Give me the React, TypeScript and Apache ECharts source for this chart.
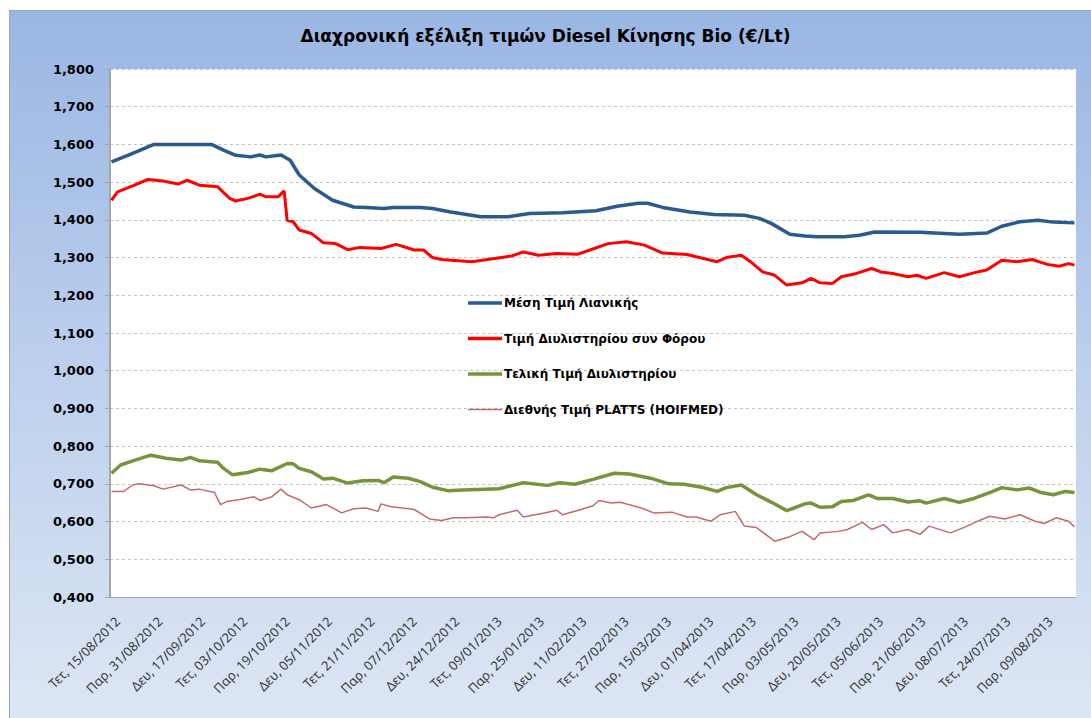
import React, { useEffect, useRef } from 'react';
import * as echarts from 'echarts';

const TITLE = 'Διαχρονική εξέλιξη τιμών Diesel Κίνησης Bio (€/Lt)';
const NAME_RETAIL = 'Μέση Τιμή Λιανικής';
const NAME_REFINERY_TAX = 'Τιμή Διυλιστηρίου συν Φόρου';
const NAME_REFINERY = 'Τελική Τιμή Διυλιστηρίου';
const NAME_PLATTS = 'Διεθνής Τιμή PLATTS (HOIFMED)';

// Categories: every day Mon–Sat starting Mon 13/08/2012
const START = { y: 2012, m: 8, d: 13 };
const DAY_COUNT = 319;
const DAY_NAMES = ['Κυρ', 'Δευ', 'Τρι', 'Τετ', 'Πεμ', 'Παρ', 'Σαβ'];
const LABEL_EVERY = 14;
const LABEL_OFFSET = 2;

const Y_MIN = 0.4;
const Y_MAX = 1.8;
const Y_STEP = 0.1;

// [day index, value]
const retailAvg: [number, number][] = [
  [0, 1.554], [7, 1.576], [14, 1.6], [33, 1.6], [37, 1.585], [41, 1.571], [46, 1.567],
  [49, 1.572], [51, 1.567], [56, 1.572], [59, 1.558], [62, 1.519], [67, 1.483], [73, 1.452],
  [80, 1.434], [84, 1.433], [90, 1.43], [93, 1.433], [102, 1.433], [106, 1.43], [112, 1.421],
  [122, 1.408], [131, 1.408], [138, 1.417], [149, 1.419], [160, 1.424], [167, 1.436],
  [174, 1.444], [177, 1.444], [182, 1.433], [191, 1.421], [199, 1.414], [209, 1.412],
  [214, 1.404], [218, 1.39], [224, 1.362], [229, 1.357], [233, 1.355], [242, 1.355],
  [247, 1.359], [252, 1.368], [267, 1.367], [280, 1.362], [289, 1.365], [294, 1.383],
  [300, 1.395], [306, 1.399], [311, 1.394], [318, 1.392],
];

const refineryWithTax: [number, number][] = [
  [0, 1.452], [2, 1.474], [7, 1.49], [12, 1.507], [17, 1.503], [22, 1.495], [25, 1.505],
  [29, 1.492], [35, 1.488], [39, 1.457], [41, 1.45], [45, 1.457], [49, 1.468], [51, 1.461],
  [55, 1.461], [57, 1.477], [58, 1.399], [60, 1.395], [62, 1.373], [66, 1.364], [70, 1.339],
  [74, 1.337], [78, 1.321], [82, 1.327], [89, 1.324], [94, 1.335], [100, 1.32], [103, 1.32],
  [106, 1.3], [109, 1.295], [119, 1.289], [127, 1.298], [132, 1.304], [136, 1.315],
  [141, 1.306], [147, 1.311], [154, 1.309], [158, 1.32], [164, 1.337], [170, 1.342],
  [176, 1.333], [182, 1.312], [190, 1.308], [200, 1.289], [203, 1.3], [208, 1.306],
  [211, 1.289], [215, 1.262], [219, 1.253], [223, 1.227], [228, 1.233], [231, 1.245],
  [234, 1.233], [238, 1.231], [241, 1.249], [246, 1.258], [251, 1.271], [254, 1.262],
  [258, 1.258], [263, 1.249], [266, 1.253], [269, 1.245], [275, 1.26], [280, 1.249],
  [285, 1.26], [289, 1.267], [294, 1.293], [299, 1.289], [304, 1.295], [309, 1.282],
  [313, 1.277], [316, 1.284], [318, 1.28],
];

const refineryFinal: [number, number][] = [
  [0, 0.728], [3, 0.75], [7, 0.761], [13, 0.776], [18, 0.768], [23, 0.763], [26, 0.77],
  [29, 0.761], [35, 0.757], [37, 0.741], [40, 0.724], [45, 0.73], [49, 0.739], [53, 0.735],
  [58, 0.754], [60, 0.753], [62, 0.741], [66, 0.732], [70, 0.713], [73, 0.715], [78, 0.702],
  [83, 0.708], [88, 0.709], [90, 0.703], [93, 0.718], [98, 0.715], [102, 0.706], [106, 0.691],
  [111, 0.682], [116, 0.684], [128, 0.687], [136, 0.703], [144, 0.696], [148, 0.703],
  [153, 0.699], [159, 0.712], [166, 0.728], [171, 0.726], [178, 0.715], [184, 0.7],
  [189, 0.699], [195, 0.691], [200, 0.68], [203, 0.69], [208, 0.697], [213, 0.671],
  [218, 0.651], [223, 0.629], [229, 0.647], [231, 0.649], [234, 0.638], [238, 0.639],
  [241, 0.653], [245, 0.656], [250, 0.671], [253, 0.661], [258, 0.661], [263, 0.652],
  [267, 0.655], [269, 0.649], [275, 0.661], [280, 0.651], [285, 0.662], [290, 0.677],
  [294, 0.69], [299, 0.684], [303, 0.689], [307, 0.677], [311, 0.671], [315, 0.68], [318, 0.677],
];

const platts: [number, number][] = [
  [0, 0.68], [4, 0.68], [7, 0.697], [9, 0.7], [14, 0.695], [17, 0.686], [23, 0.697], [26, 0.684],
  [29, 0.686], [34, 0.677], [36, 0.645], [38, 0.653], [42, 0.658], [47, 0.666], [49, 0.656],
  [53, 0.666], [56, 0.686], [58, 0.671], [62, 0.658], [66, 0.636], [71, 0.645], [76, 0.623],
  [80, 0.634], [84, 0.636], [88, 0.627], [89, 0.647], [92, 0.64], [100, 0.632], [105, 0.607],
  [109, 0.603], [113, 0.61], [117, 0.61], [124, 0.612], [126, 0.61], [128, 0.618], [134, 0.63],
  [136, 0.612], [143, 0.623], [147, 0.63], [149, 0.618], [155, 0.632], [159, 0.642],
  [161, 0.656], [165, 0.649], [168, 0.651], [175, 0.636], [179, 0.623], [185, 0.625],
  [190, 0.612], [193, 0.612], [198, 0.601], [201, 0.618], [206, 0.627], [209, 0.588],
  [213, 0.584], [219, 0.548], [224, 0.56], [228, 0.574], [232, 0.552], [234, 0.57],
  [240, 0.574], [243, 0.579], [248, 0.598], [251, 0.579], [255, 0.592], [258, 0.57],
  [263, 0.579], [267, 0.566], [270, 0.588], [277, 0.57], [282, 0.586], [286, 0.601],
  [290, 0.614], [295, 0.607], [300, 0.618], [305, 0.601], [308, 0.595], [312, 0.61],
  [316, 0.601], [318, 0.586],
];

function buildCategories(): string[] {
  const out: string[] = [];
  const d = new Date(Date.UTC(START.y, START.m - 1, START.d));
  while (out.length < DAY_COUNT) {
    const wd = d.getUTCDay();
    if (wd !== 0) {
      const dd = String(d.getUTCDate()).padStart(2, '0');
      const mm = String(d.getUTCMonth() + 1).padStart(2, '0');
      out.push(`${DAY_NAMES[wd]}, ${dd}/${mm}/${d.getUTCFullYear()}`);
    }
    d.setUTCDate(d.getUTCDate() + 1);
  }
  return out;
}

const THICK_ICON = 'path://M0 0H34V3.5H0Z';
const THIN_ICON = 'path://M0 0H34V1.5H0Z';

export default function App() {
  const ref = useRef<HTMLDivElement>(null);

  useEffect(() => {
    if (!ref.current) return;
    const chart = echarts.init(ref.current, undefined, { renderer: 'svg' });
    const cats = buildCategories();
    const toData = (pairs: [number, number][]) => pairs.map(([i, v]) => [cats[i], v]);
    const lineSeries = (name: string, pairs: [number, number][], color: string, width: number) => ({
      name,
      type: 'line',
      data: toData(pairs),
      symbol: 'none',
      showSymbol: false,
      lineStyle: { color, width },
      itemStyle: { color },
      z: 3,
    });

    chart.setOption({
      animation: false,
      backgroundColor: 'transparent',
      title: {
        text: TITLE,
        left: 'center',
        top: 27,
        padding: 0,
        textStyle: { fontFamily: 'DejaVu Sans', fontSize: 17, fontWeight: 'bold', color: '#000' },
      },
      legend: {
        orient: 'vertical',
        left: 468,
        top: 297,
        padding: 0,
        itemWidth: 34,
        itemHeight: 14,
        itemGap: 23.5,
        symbolKeepAspect: true,
        textStyle: { fontFamily: 'DejaVu Sans', fontSize: 12, fontWeight: 'bold', color: '#000', padding: [0, 0, 0, -3] },
        data: [
          { name: NAME_RETAIL, icon: THICK_ICON },
          { name: NAME_REFINERY_TAX, icon: THICK_ICON },
          { name: NAME_REFINERY, icon: THICK_ICON },
          { name: NAME_PLATTS, icon: THIN_ICON },
        ],
      },
      grid: {
        left: 110,
        top: 69,
        right: 15,
        bottom: 121,
        show: true,
        backgroundColor: '#ffffff',
        borderWidth: 0,
      },
      xAxis: {
        type: 'category',
        data: cats,
        boundaryGap: true,
        axisLine: { lineStyle: { color: '#a6a6a6', width: 1 } },
        axisTick: { interval: 0, length: 4, lineStyle: { color: '#8c8c8c' } },
        axisLabel: {
          interval: (index: number) => index % LABEL_EVERY === LABEL_OFFSET,
          rotate: 45,
          margin: 22,
          fontFamily: 'Noto Sans',
          fontSize: 13,
          color: '#3a3a3a',
        },
        splitLine: { show: false },
      },
      yAxis: {
        type: 'value',
        min: Y_MIN,
        max: Y_MAX,
        interval: Y_STEP,
        axisLine: { show: true, lineStyle: { color: '#a6a6a6', width: 2 } },
        axisTick: { show: true, length: 5, lineStyle: { color: '#a6a6a6' } },
        axisLabel: {
          margin: 16,
          fontFamily: 'DejaVu Sans',
          fontSize: 13,
          fontWeight: 'bold',
          color: '#000',
          formatter: (v: number) => v.toFixed(3).replace('.', ','),
        },
        splitLine: { lineStyle: { color: '#c4c4c4', type: [3, 3], width: 1 } },
      },
      series: [
        lineSeries(NAME_RETAIL, retailAvg, '#2b5a8f', 3.5),
        lineSeries(NAME_REFINERY_TAX, refineryWithTax, '#ff0000', 3),
        lineSeries(NAME_REFINERY, refineryFinal, '#77933c', 3.5),
        lineSeries(NAME_PLATTS, platts, '#c46a6a', 1.5),
      ],
    });
    return () => chart.dispose();
  }, []);

  return (
    <>
      <div
        style={{
          position: 'fixed',
          left: 9,
          top: 10,
          width: 1082,
          height: 708,
          boxSizing: 'border-box',
          borderTop: '1px solid #a6a6a6',
          borderLeft: '1px solid #a6a6a6',
          background: 'linear-gradient(to bottom, #9ab6e3 0%, #b9cdec 45%, #dde6f4 100%)',
        }}
      />
      <div ref={ref} style={{ position: 'fixed', left: 0, top: 0, width: 1091, height: 718 }} />
    </>
  );
}
